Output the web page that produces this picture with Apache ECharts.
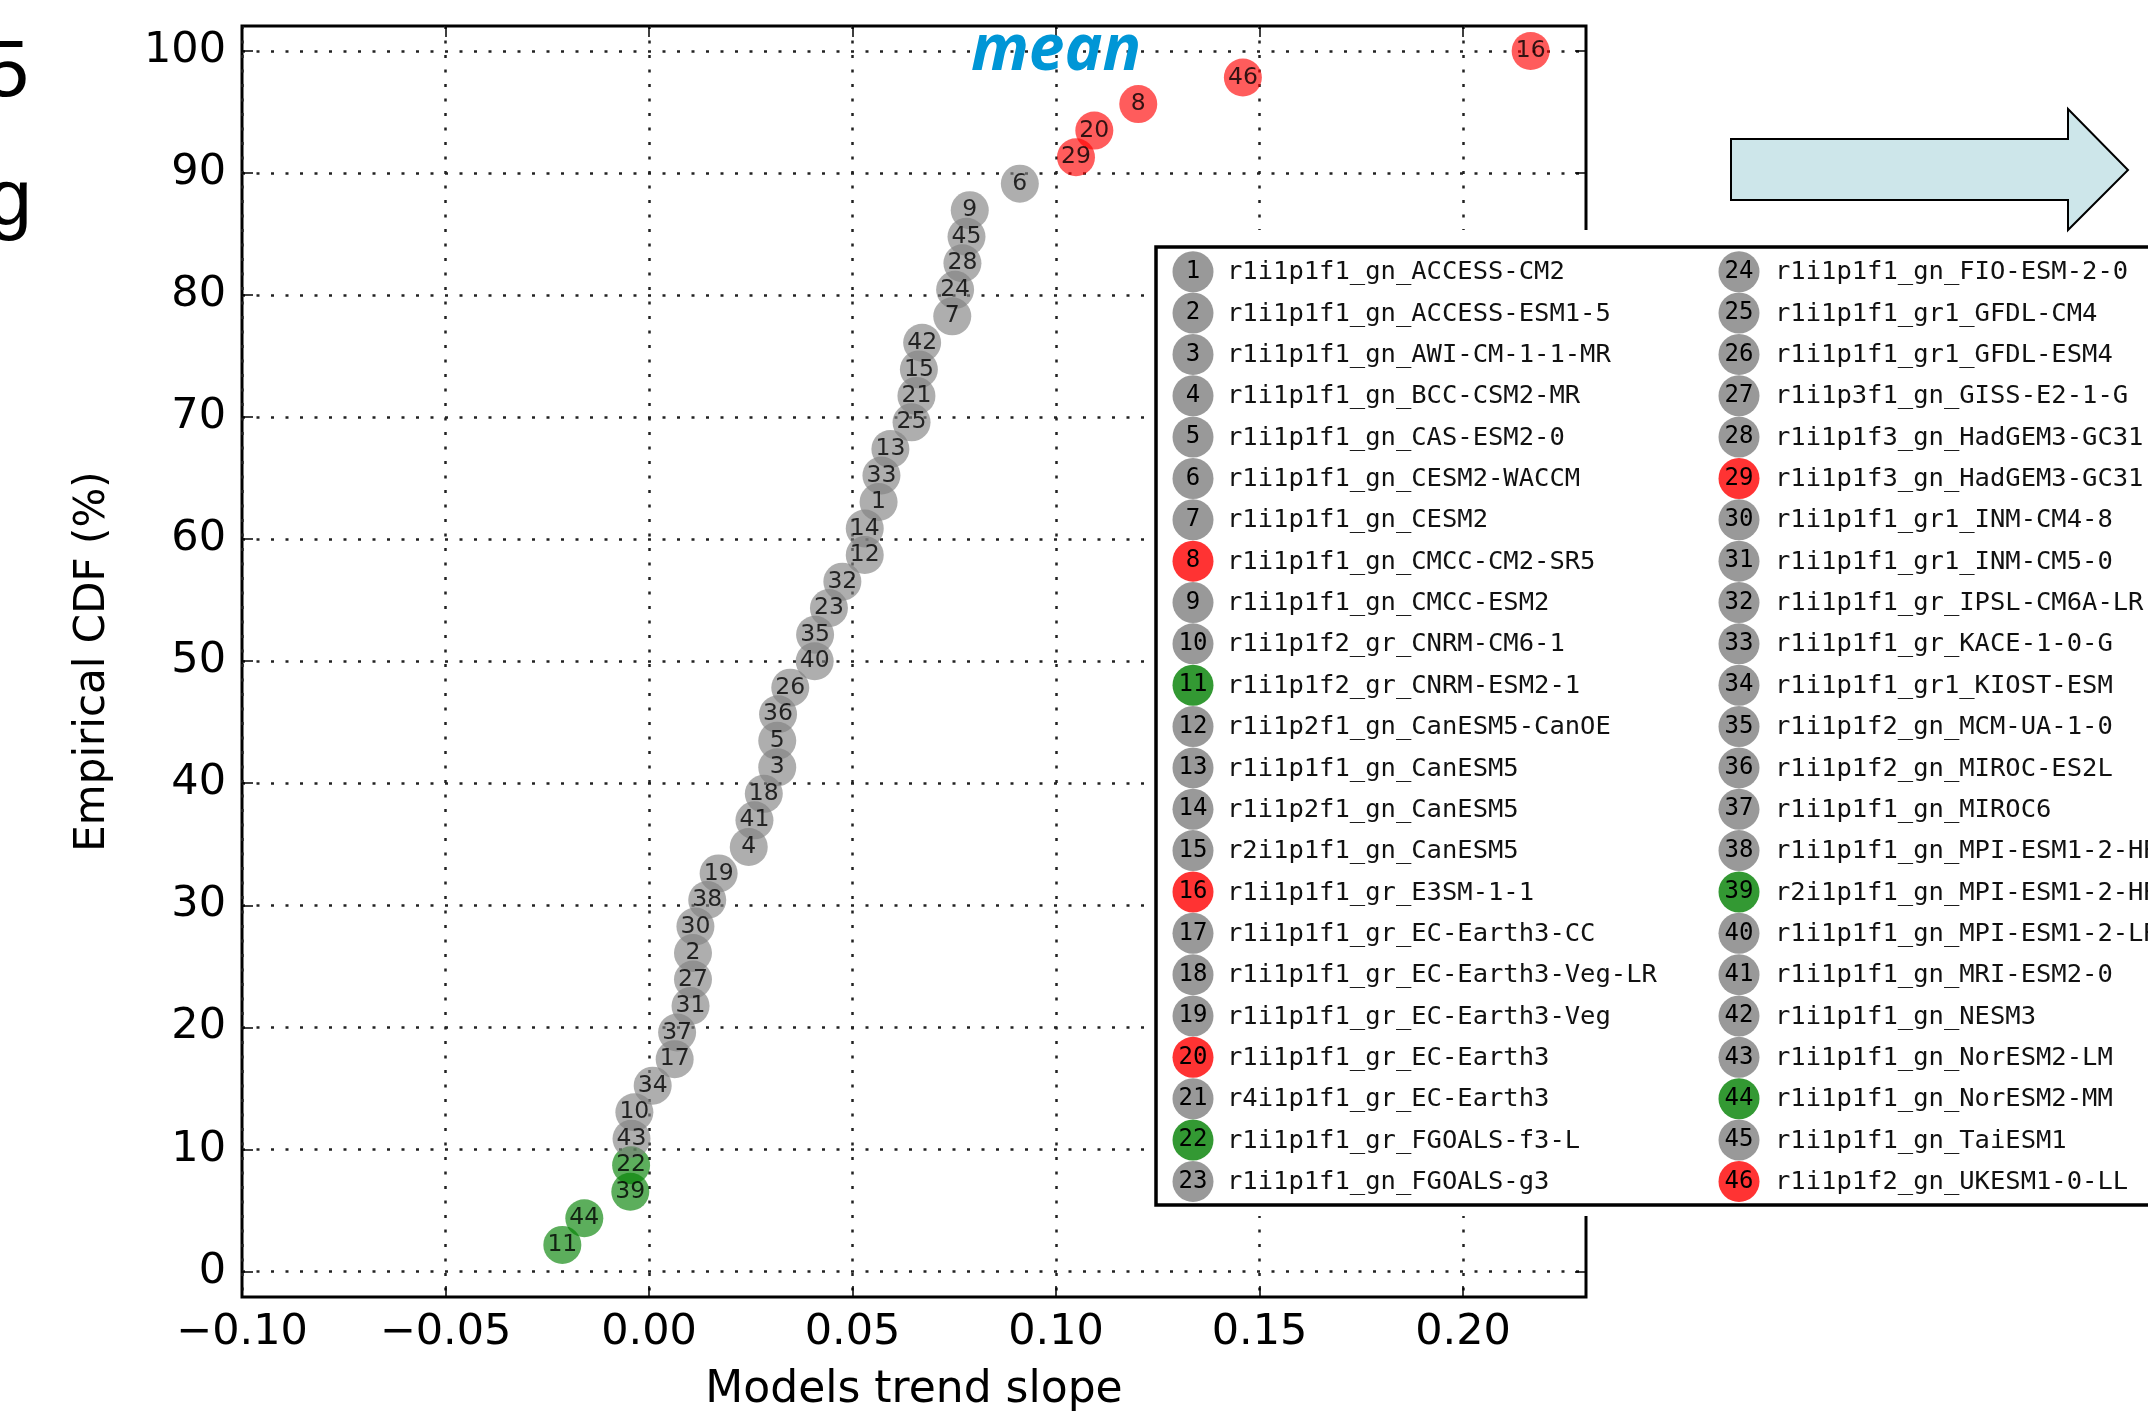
<!DOCTYPE html>
<html>
<head>
<meta charset="utf-8">
<script src="https://cdn.jsdelivr.net/npm/echarts@6/dist/echarts.min.js"></script>
<style>
  html, body { margin: 0; padding: 0; background: #fff; }
  #main { width: 2148px; height: 1418px; }
</style>
</head>
<body>
<div id="main"></div>
<script>
// model numbers sorted by slope (ECDF order, lowest first)
const rankOrder = [11, 44, 39, 22, 43, 10, 34, 17, 37, 31, 27, 2, 30, 38, 19, 4, 41, 18, 3, 5, 36, 26, 40, 35, 23, 32, 12, 14, 1, 33, 13, 25, 21, 15, 42, 7, 24, 28, 45, 9, 6, 29, 20, 8, 46, 16]
const slopes = [-0.0213, -0.0159, -0.0046, -0.0044, -0.0043, -0.0036, 0.0009, 0.0063, 0.0069, 0.0102, 0.0108, 0.0108, 0.0114, 0.0143, 0.0171, 0.0245, 0.0259, 0.0282, 0.0315, 0.0315, 0.0317, 0.0347, 0.0407, 0.0408, 0.0442, 0.0475, 0.0530, 0.0530, 0.0564, 0.0571, 0.0593, 0.0645, 0.0657, 0.0663, 0.0671, 0.0745, 0.0752, 0.0770, 0.0780, 0.0788, 0.0911, 0.1049, 0.1094, 0.1202, 0.1459, 0.2166]
const cdf = [2.17, 4.35, 6.52, 8.70, 10.87, 13.04, 15.22, 17.39, 19.57, 21.74, 23.91, 26.09, 28.26, 30.43, 32.61, 34.78, 36.96, 39.13, 41.30, 43.48, 45.65, 47.83, 50.00, 52.17, 54.35, 56.52, 58.70, 60.87, 63.04, 65.22, 67.39, 69.57, 71.74, 73.91, 76.09, 78.26, 80.43, 82.61, 84.78, 86.96, 89.13, 91.30, 93.48, 95.65, 97.83, 100.00]

const redModels = [8, 16, 20, 29, 46]
const greenModels = [11, 22, 39, 44]

const modelNames = [
  'r1i1p1f1_gn_ACCESS-CM2', 'r1i1p1f1_gn_ACCESS-ESM1-5', 'r1i1p1f1_gn_AWI-CM-1-1-MR', 'r1i1p1f1_gn_BCC-CSM2-MR',
  'r1i1p1f1_gn_CAS-ESM2-0', 'r1i1p1f1_gn_CESM2-WACCM', 'r1i1p1f1_gn_CESM2', 'r1i1p1f1_gn_CMCC-CM2-SR5',
  'r1i1p1f1_gn_CMCC-ESM2', 'r1i1p1f2_gr_CNRM-CM6-1', 'r1i1p1f2_gr_CNRM-ESM2-1', 'r1i1p2f1_gn_CanESM5-CanOE',
  'r1i1p1f1_gn_CanESM5', 'r1i1p2f1_gn_CanESM5', 'r2i1p1f1_gn_CanESM5', 'r1i1p1f1_gr_E3SM-1-1',
  'r1i1p1f1_gr_EC-Earth3-CC', 'r1i1p1f1_gr_EC-Earth3-Veg-LR', 'r1i1p1f1_gr_EC-Earth3-Veg', 'r1i1p1f1_gr_EC-Earth3',
  'r4i1p1f1_gr_EC-Earth3', 'r1i1p1f1_gr_FGOALS-f3-L', 'r1i1p1f1_gn_FGOALS-g3', 'r1i1p1f1_gn_FIO-ESM-2-0',
  'r1i1p1f1_gr1_GFDL-CM4', 'r1i1p1f1_gr1_GFDL-ESM4', 'r1i1p3f1_gn_GISS-E2-1-G', 'r1i1p1f3_gn_HadGEM3-GC31',
  'r1i1p1f3_gn_HadGEM3-GC31', 'r1i1p1f1_gr1_INM-CM4-8', 'r1i1p1f1_gr1_INM-CM5-0', 'r1i1p1f1_gr_IPSL-CM6A-LR',
  'r1i1p1f1_gr_KACE-1-0-G', 'r1i1p1f1_gr1_KIOST-ESM', 'r1i1p1f2_gn_MCM-UA-1-0', 'r1i1p1f2_gn_MIROC-ES2L',
  'r1i1p1f1_gn_MIROC6', 'r1i1p1f1_gn_MPI-ESM1-2-HR', 'r2i1p1f1_gn_MPI-ESM1-2-HR', 'r1i1p1f1_gn_MPI-ESM1-2-LR',
  'r1i1p1f1_gn_MRI-ESM2-0', 'r1i1p1f1_gn_NESM3', 'r1i1p1f1_gn_NorESM2-LM', 'r1i1p1f1_gn_NorESM2-MM',
  'r1i1p1f1_gn_TaiESM1', 'r1i1p1f2_gn_UKESM1-0-LL'
]

const xTicks = [-0.1, -0.05, 0, 0.05, 0.1, 0.15, 0.2]
const yTicks = [0, 10, 20, 30, 40, 50, 60, 70, 80, 90, 100]

const colorOf = function (m) {
  if (redModels.includes(m)) return 'rgba(255,0,0,0.8)'
  if (greenModels.includes(m)) return 'rgba(0,128,0,0.8)'
  return 'rgba(128,128,128,0.8)'
}

const chart = echarts.init(document.getElementById('main'))

const gridLine = { show: true, lineStyle: { color: '#222', width: 2.5, type: [3, 11.5] } }
const noLine = { show: false, onZero: false }
const tickIn = (vals) => ({ show: true, inside: true, length: 11, customValues: vals, lineStyle: { color: '#000', width: 1.5 } })
const tickFont = { fontSize: 43, color: '#000', fontFamily: 'DejaVu Sans' }

// legend drawn as graphic items (numbered circle + model name)
const legendItems = []
legendItems.push({ type: 'rect', z: 100, shape: { x: 1145, y: 230, width: 1100, height: 986 }, style: { fill: '#fff' } })
legendItems.push({ type: 'rect', z: 101, shape: { x: 1156, y: 247, width: 1100, height: 958 }, style: { fill: '#fff', stroke: '#000', lineWidth: 3.5 } })
modelNames.forEach(function (name, k) {
  const model = k + 1
  const col = k < 23 ? 0 : 1
  const row = k % 23
  const cx = col ? 1739 : 1193
  const cy = 271.7 + row * 41.35
  legendItems.push({ type: 'circle', z: 102, shape: { cx: cx, cy: cy, r: 20.5 }, style: { fill: colorOf(model) } })
  legendItems.push({
    type: 'text', z: 103, x: cx, y: cy,
    style: { text: String(model), fontSize: 24, fontFamily: 'DejaVu Sans Mono', fill: '#000', align: 'center', verticalAlign: 'middle', textAlign: 'center', textVerticalAlign: 'middle' }
  })
  legendItems.push({
    type: 'text', z: 103, x: col ? 1775 : 1227, y: cy + 1,
    style: { text: name, fontSize: 25.5, fontFamily: 'DejaVu Sans Mono', fill: '#111', align: 'left', verticalAlign: 'middle', textAlign: 'left', textVerticalAlign: 'middle' }
  })
})

// arrow, "mean" label and text fragments cut at the left edge
const extras = [
  {
    type: 'polygon', z: 104,
    shape: { points: [[1731, 139], [2068, 139], [2068, 109], [2128, 170], [2068, 230], [2068, 200], [1731, 200]] },
    style: { fill: '#cde6ea', stroke: '#000', lineWidth: 2 }
  },
  {
    type: 'text', z: 104, x: 1056, y: 52,
    style: { text: 'mean', fontSize: 64, fontStyle: 'italic', fontWeight: 'bold', fontFamily: 'Open Sans', fill: '#0096d6', align: 'center', verticalAlign: 'middle', textAlign: 'center', textVerticalAlign: 'middle' }
  },
  {
    type: 'text', z: 104, x: 29, y: 74,
    style: { text: '5', fontSize: 80, fontFamily: 'Liberation Sans', fill: '#000', align: 'right', verticalAlign: 'middle', textAlign: 'right', textVerticalAlign: 'middle' }
  },
  {
    type: 'text', z: 104, x: 32, y: 202,
    style: { text: 'g', fontSize: 80, fontFamily: 'Liberation Sans', fill: '#000', align: 'right', verticalAlign: 'middle', textAlign: 'right', textVerticalAlign: 'middle' }
  }
]

const option = {
  animation: false,
  backgroundColor: '#fff',
  grid: { left: 242, top: 26, width: 1344, height: 1273, show: true, borderColor: '#000', borderWidth: 3, backgroundColor: '#fff' },
  xAxis: [
    {
      type: 'value', min: -0.1, max: 0.2302, position: 'bottom',
      axisLine: noLine,
      axisTick: tickIn(xTicks),
      axisLabel: Object.assign({ customValues: xTicks, margin: 14, formatter: v => (v < 0 ? '\u2212' : '') + Math.abs(v).toFixed(2) }, tickFont),
      splitLine: gridLine,
      name: 'Models trend slope', nameLocation: 'middle', nameGap: 72,
      nameTextStyle: { fontSize: 44, color: '#000', fontFamily: 'DejaVu Sans' }
    },
    {
      type: 'value', min: -0.1, max: 0.2302, position: 'top',
      axisLine: noLine, axisTick: tickIn(xTicks), axisLabel: { show: false }, splitLine: { show: false }
    }
  ],
  yAxis: [
    {
      type: 'value', min: -2.1, max: 102.05, position: 'left',
      axisLine: noLine,
      axisTick: tickIn(yTicks),
      axisLabel: Object.assign({ customValues: yTicks, margin: 16 }, tickFont),
      splitLine: gridLine,
      name: 'Empirical CDF (%)', nameLocation: 'middle', nameGap: 128,
      nameTextStyle: { fontSize: 42, color: '#000', fontFamily: 'DejaVu Sans' }
    },
    {
      type: 'value', min: -2.1, max: 102.05, position: 'right',
      axisLine: noLine, axisTick: tickIn(yTicks), axisLabel: { show: false }, splitLine: { show: false }
    }
  ],
  series: [
    {
      type: 'scatter',
      xAxisIndex: 0, yAxisIndex: 0,
      symbolSize: 38,
      data: rankOrder.map((m, i) => ({ name: String(m), value: [slopes[i], cdf[i]], itemStyle: { color: colorOf(m) } })),
      label: { show: true, position: 'inside', formatter: '{b}', color: '#000', fontSize: 23.5, fontFamily: 'DejaVu Sans' }
    }
  ],
  graphic: { elements: legendItems.concat(extras) }
}

chart.setOption(option)
</script>
</body>
</html>
